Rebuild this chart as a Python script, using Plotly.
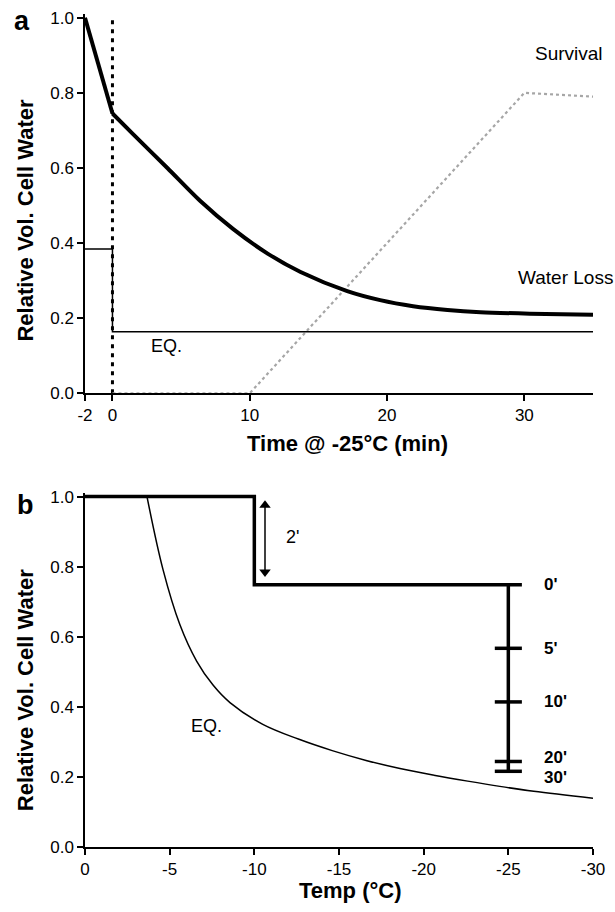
import plotly.graph_objects as go

# ---------------- data: panel a ----------------
loss_time_pre = [-2, 0]
loss_vol_pre = [1.0, 0.745]
loss_time = [0, 1.5, 4, 6.4, 8.8, 11.3, 13.7, 17.1, 19.5, 21.9, 24.4, 26.8, 30.4, 35]
loss_vol = [0.745, 0.690, 0.600, 0.512, 0.437, 0.372, 0.323, 0.272, 0.248, 0.232, 0.222, 0.216, 0.212, 0.209]

eq_time = [-2, 0, 0, 35]
eq_vol = [0.384, 0.384, 0.164, 0.164]

surv_time = [0, 10, 30, 35]
surv_val = [0.0, 0.0, 0.80, 0.79]

marker_time = [0, 0]
marker_vol = [0.0, 1.0]

ticks_a_x = [-2, 0, 10, 20, 30]
ticks_a_lbl = ["-2", "0", "10", "20", "30"]
ticks_y = [0.0, 0.2, 0.4, 0.6, 0.8, 1.0]

# ---------------- data: panel b ----------------
step_temp = [0, -10, -10, -25.8]
step_vol = [1.0, 1.0, 0.748, 0.748]

hold_temp = -25
point_labels = ["0'", "5'", "10'", "20'", "30'"]
point_vol = [0.748, 0.567, 0.414, 0.244, 0.216]

arrow_temp = -10.63
arrow_vol = [0.975, 0.785]

eqb_temp = [-3.66, -4.6, -5.6, -6.6, -7.56, -8.56, -10.5, -12.6, -14.6, -16.6, -18.6, -20.6, -22.6, -24.5, -26.5, -30]
eqb_vol = [1.0, 0.793, 0.635, 0.530, 0.462, 0.412, 0.350, 0.308, 0.275, 0.247, 0.224, 0.205, 0.188, 0.173, 0.159, 0.139]

ticks_b_x = [0, -5, -10, -15, -20, -25, -30]
ticks_b_lbl = ["0", "-5", "-10", "-15", "-20", "-25", "-30"]

FONT = "Liberation Sans, Arial, sans-serif"

fig = go.Figure()

# panel a traces
fig.add_trace(go.Scatter(x=marker_time, y=marker_vol, mode="lines",
                         line=dict(color="black", width=3, dash="4px,5px"),
                         xaxis="x", yaxis="y"))
fig.add_trace(go.Scatter(x=surv_time, y=surv_val, mode="lines",
                         line=dict(color="#a6a6a6", width=2.2, dash="dot"),
                         xaxis="x", yaxis="y"))
fig.add_trace(go.Scatter(x=eq_time, y=eq_vol, mode="lines",
                         line=dict(color="black", width=1.5),
                         xaxis="x", yaxis="y"))
fig.add_trace(go.Scatter(x=loss_time_pre, y=loss_vol_pre, mode="lines",
                         line=dict(color="black", width=4),
                         xaxis="x", yaxis="y"))
fig.add_trace(go.Scatter(x=loss_time, y=loss_vol, mode="lines",
                         line=dict(color="black", width=4, shape="spline", smoothing=0.8),
                         xaxis="x", yaxis="y"))

# panel b traces
fig.add_trace(go.Scatter(x=eqb_temp, y=eqb_vol, mode="lines",
                         line=dict(color="black", width=1.5, shape="spline", smoothing=1.0),
                         xaxis="x2", yaxis="y2"))
fig.add_trace(go.Scatter(x=step_temp, y=step_vol, mode="lines",
                         line=dict(color="black", width=3.5),
                         xaxis="x2", yaxis="y2"))
fig.add_trace(go.Scatter(x=[hold_temp, hold_temp], y=[max(point_vol), min(point_vol)], mode="lines",
                         line=dict(color="black", width=3.5),
                         xaxis="x2", yaxis="y2"))
half = 0.8
for v in point_vol[1:]:
    fig.add_trace(go.Scatter(x=[hold_temp + half, hold_temp - half], y=[v, v], mode="lines",
                             line=dict(color="black", width=3.5),
                             xaxis="x2", yaxis="y2"))

# double-headed arrow (2 min)
fig.add_trace(go.Scatter(x=[arrow_temp, arrow_temp], y=arrow_vol, mode="lines+markers",
                         line=dict(color="black", width=1.5),
                         marker=dict(symbol=["triangle-up", "triangle-down"], size=10, color="black"),
                         cliponaxis=False, xaxis="x2", yaxis="y2"))

axis_common = dict(showline=True, linecolor="black", linewidth=1.5, ticks="outside",
                   ticklen=6, tickwidth=1.5, tickcolor="black", showgrid=False, zeroline=False,
                   tickfont=dict(family=FONT, size=17, color="black"))

fig.update_layout(
    width=615, height=912,
    margin=dict(l=85, r=22, t=8, b=65),
    paper_bgcolor="white", plot_bgcolor="white",
    showlegend=False,
    xaxis=dict(domain=[0, 1], range=[-2, 35], tickvals=ticks_a_x, ticktext=ticks_a_lbl,
               anchor="y", **axis_common),
    yaxis=dict(domain=[0.5447, 1], range=[0, 1.01], tickvals=ticks_y, tickformat=".1f",
               anchor="x", **axis_common),
    xaxis2=dict(domain=[0, 1], range=[0, -30], tickvals=ticks_b_x, ticktext=ticks_b_lbl,
                anchor="y2", **axis_common),
    yaxis2=dict(domain=[0, 0.4249], range=[0, 1.01], tickvals=ticks_y, tickformat=".1f",
                anchor="x2", **axis_common),
)

ann = []
def txt(text, x, y, xref, yref, size, bold=False, xanchor="center", yanchor="middle", angle=0, yshift=0):
    ann.append(dict(text=("<b>%s</b>" % text) if bold else text, x=x, y=y, xref=xref, yref=yref,
                    showarrow=False, xanchor=xanchor, yanchor=yanchor, textangle=angle, yshift=yshift,
                    font=dict(family=FONT, size=size, color="black")))

# panel letters and axis titles
txt("a", -0.124, 0.9917, "paper", "paper", 27, bold=True)
txt("b", -0.118, 0.4106, "paper", "paper", 27, bold=True)
txt("Relative Vol. Cell Water", -0.118, 0.7521, "paper", "paper", 22, bold=True, angle=-90)
txt("Relative Vol. Cell Water", -0.118, 0.1883, "paper", "paper", 22, bold=True, angle=-90)
txt("Time @ -25°C (min)", 0.5177, 0.4839, "paper", "paper", 22, bold=True)
txt("Temp (°C)", 0.5236, -0.0525, "paper", "paper", 22, bold=True)

# panel a labels (paper coords: they sit beyond the axis end)
txt("Survival", 1.0236, 0.9524, "paper", "paper", 19, xanchor="right")
txt("Water Loss", 1.0433, 0.6842, "paper", "paper", 19, xanchor="right")
txt("EQ.", 3.97, 0.127, "x", "y", 18)

# panel b labels
txt("EQ.", -7.2, 0.346, "x2", "y2", 18)
txt("2'", -12.28, 0.884, "x2", "y2", 18)
shifts = [0, 0, 0, 4, -6]
for lab, v, s in zip(point_labels, point_vol, shifts):
    txt(lab, -27.0, v, "x2", "y2", 17, bold=True, xanchor="left", yshift=s)

fig.update_layout(annotations=ann)

fig.write_html("out.html")
